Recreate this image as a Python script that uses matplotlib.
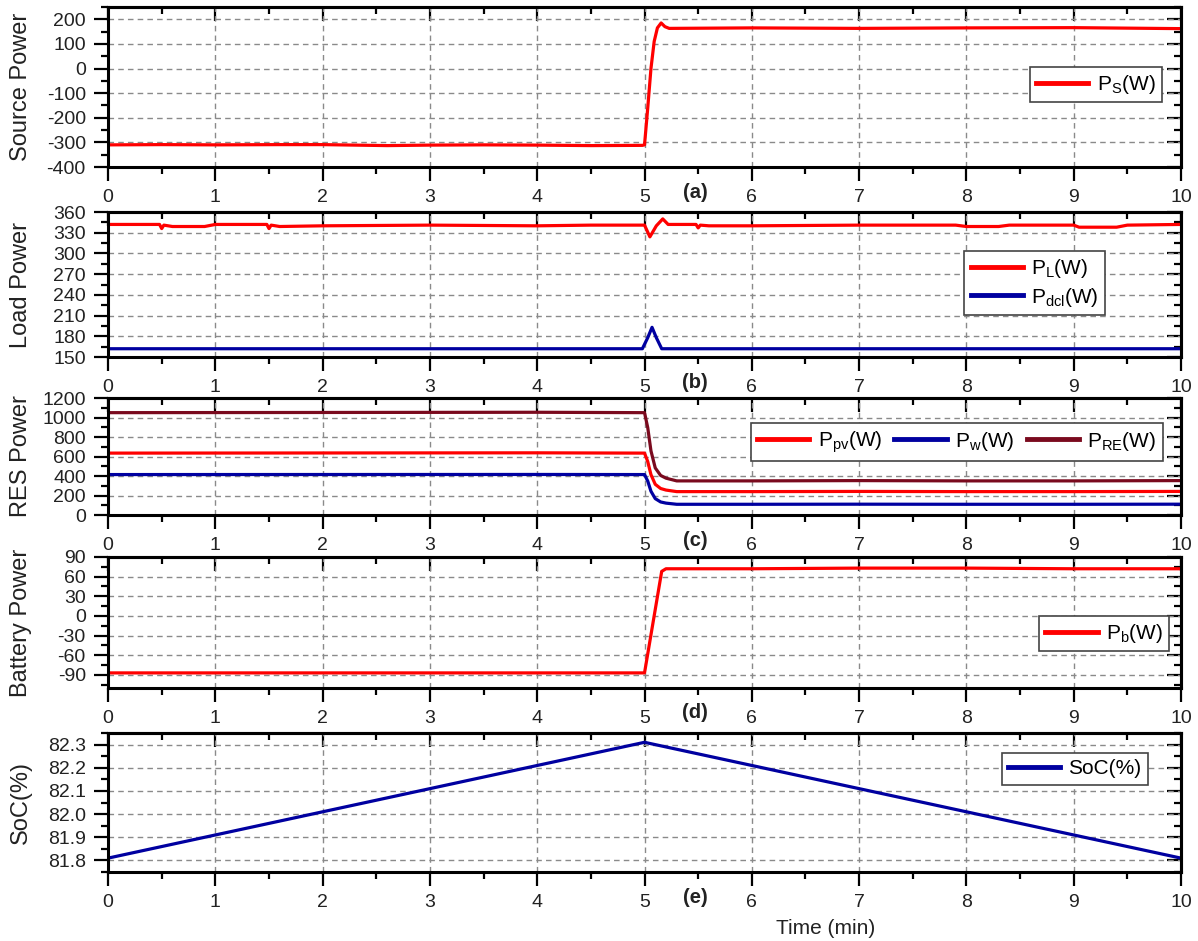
import numpy as np
import matplotlib
matplotlib.use("Agg")
import matplotlib.pyplot as plt
from matplotlib.ticker import MultipleLocator

plt.rcParams["font.family"] = ["Liberation Sans", "DejaVu Sans"]
plt.rcParams["mathtext.fontset"] = "custom"
plt.rcParams["mathtext.rm"] = "Liberation Sans"
plt.rcParams["mathtext.it"] = "Liberation Sans:italic"
plt.rcParams["axes.unicode_minus"] = False

RED = "#ff0000"
BLUE = "#0000a0"
MAROON = "#7a0a1e"

# (a) source power
t_src = [0, 0.5, 1, 1.6, 2, 2.6, 3, 3.5, 4, 4.5, 4.98, 5.0, 5.03, 5.06, 5.09, 5.12, 5.155, 5.19, 5.23, 6, 7, 8, 9, 10]
p_src = [-310, -309, -310, -309, -309, -313, -311, -310, -311, -313, -312, -310, -160, 0, 110, 165, 185, 170, 163, 165, 163, 165, 166, 162]

# (b) load power and dc load power
t_load = [0, 0.48, 0.5, 0.52, 0.6, 0.9, 1.0, 1.48, 1.5, 1.52, 1.6, 2.0, 3.0, 4.0, 4.5, 5.0,
          5.05, 5.11, 5.17, 5.22, 5.48, 5.5, 5.52, 5.6, 6, 7, 7.9, 8.0, 8.3, 8.4, 9.0, 9.05, 9.4, 9.5, 10]
p_load = [342, 342, 336, 341, 339, 339, 342, 342, 336, 341, 339, 340, 341, 340, 341, 341,
          324, 340, 350, 342, 342, 337, 341, 340, 340, 341, 341, 339, 339, 341, 341, 338, 338, 341, 342]
t_dcl = [0, 4.98, 5.03, 5.07, 5.11, 5.16, 10]
p_dcl = [162, 162, 178, 193, 178, 162, 162]

# (c) renewable sources
t_res = [0, 4.0, 5.0, 5.03, 5.06, 5.1, 5.15, 5.2, 5.3, 6, 7, 8, 9, 10]
p_pv = [635, 638, 635, 548, 414, 315, 272, 256, 240, 240, 242, 240, 240, 242]
p_w = [415, 416, 415, 348, 244, 168, 134, 122, 110, 110, 111, 110, 110, 111]
p_re = [1050, 1054, 1050, 896, 658, 483, 406, 378, 350, 350, 353, 350, 350, 353]

# (d) battery power
t_bat = [0, 1, 2, 3, 4, 5.0, 5.16, 5.2, 6, 7, 8, 9, 10]
p_bat = [-87, -87, -87, -87, -87, -87, 68, 72, 72, 73, 73, 72, 72]

# (e) state of charge
t_soc = [0, 5, 10]
soc = [81.81, 82.31, 81.81]

panels = ["(a)", "(b)", "(c)", "(d)", "(e)"]
ylabels = ["Source Power", "Load Power", "RES Power", "Battery Power", "SoC(%)"]
ylims = [(-400, 250), (150, 360), (0, 1200), (-110, 90), (81.75, 82.35)]
ymajor = [100, 30, 200, 30, 0.1]

fig = plt.figure(figsize=(11.98, 9.41), dpi=100)
rects = [
    [0.0902, 0.8225, 0.8956, 0.1701],
    [0.0902, 0.6206, 0.8956, 0.1541],
    [0.0902, 0.4527, 0.8956, 0.1243],
    [0.0902, 0.2689, 0.8956, 0.1392],
    [0.0902, 0.0733, 0.8956, 0.1477],
]
axes = [fig.add_axes(r) for r in rects]


def style(ax, ylim, step, ylabel, tag):
    ax.set_xlim(0, 10)
    ax.set_ylim(*ylim)
    ax.xaxis.set_major_locator(MultipleLocator(1))
    ax.xaxis.set_minor_locator(MultipleLocator(0.5))
    ax.yaxis.set_major_locator(MultipleLocator(step))
    ax.yaxis.set_minor_locator(MultipleLocator(step / 2))
    ax.tick_params(which="major", direction="out", length=10, width=1.6, labelsize=14, pad=6,
                   labelcolor="#222222")
    ax.tick_params(which="minor", direction="out", length=5, width=1.6)
    for s in ax.spines.values():
        s.set_linewidth(2.2)
    ax.grid(True, which="major", color="#8a8a8a", linestyle=(0, (4, 3)), linewidth=1)
    ax.set_axisbelow(True)
    if step < 1:
        ax.yaxis.set_major_formatter(plt.FormatStrFormatter("%.1f"))
    ax.set_ylabel(ylabel, fontsize=17, color="#222222")
    ax.yaxis.set_label_coords(-0.071, 0.5)

    top = ax.secondary_xaxis("top")
    top.xaxis.set_major_locator(MultipleLocator(1))
    top.xaxis.set_minor_locator(MultipleLocator(0.5))
    top.tick_params(which="major", direction="in", length=10, width=1.6, labeltop=False)
    top.tick_params(which="minor", direction="in", length=5, width=1.6)
    top.spines["top"].set_linewidth(2.2)
    right = ax.secondary_yaxis("right")
    right.yaxis.set_major_locator(MultipleLocator(step))
    right.yaxis.set_minor_locator(MultipleLocator(step / 2))
    right.tick_params(which="major", direction="in", length=10, width=1.6, labelright=False)
    right.tick_params(which="minor", direction="in", length=5, width=1.6)
    right.spines["right"].set_linewidth(2.2)

    ax.annotate(tag, xy=(0.547, 0), xycoords="axes fraction", xytext=(0, -18),
                textcoords="offset points", ha="center", va="center",
                fontsize=14.5, fontweight="bold", color="#222222")


def legend(ax, anchor, ncol=1):
    leg = ax.legend(loc="upper right", bbox_to_anchor=anchor, ncol=ncol, fontsize=15,
                    fancybox=False, framealpha=1, edgecolor="#444444", borderaxespad=0,
                    handlelength=2.5, handletextpad=0.4, columnspacing=0.6,
                    borderpad=0.3, labelspacing=0.25)
    leg.get_frame().set_linewidth(1.2)
    for ln in leg.get_lines():
        ln.set_linewidth(3.5)
    return leg


lw = 2.3
ax = axes[0]
ax.plot(t_src, p_src, color=RED, lw=lw, label=r"P$_{\rm S}$(W)")
legend(ax, (0.982, 0.625))

ax = axes[1]
ax.plot(t_load, p_load, color=RED, lw=lw, label=r"P$_{\rm L}$(W)")
ax.plot(t_dcl, p_dcl, color=BLUE, lw=lw, label=r"P$_{\rm dcl}$(W)")
legend(ax, (0.929, 0.73))

ax = axes[2]
ax.plot(t_res, p_pv, color=RED, lw=lw, label=r"P$_{\rm pv}$(W)")
ax.plot(t_res, p_w, color=BLUE, lw=lw, label=r"P$_{\rm w}$(W)")
ax.plot(t_res, p_re, color=MAROON, lw=lw, label=r"P$_{\rm RE}$(W)")
legend(ax, (0.983, 0.786), ncol=3)

ax = axes[3]
ax.plot(t_bat, p_bat, color=RED, lw=lw, label=r"P$_{\rm b}$(W)")
legend(ax, (0.989, 0.55))

ax = axes[4]
ax.plot(t_soc, soc, color=BLUE, lw=lw, label="SoC(%)")
legend(ax, (0.969, 0.856))

for ax, yl, st, lab, tag in zip(axes, ylims, ymajor, ylabels, panels):
    style(ax, yl, st, lab, tag)

fig.text(826 / 1198, 1 - 928 / 941, "Time (min)", ha="center", va="center", fontsize=15,
         color="#222222")

fig.savefig("out.png", dpi=100)
